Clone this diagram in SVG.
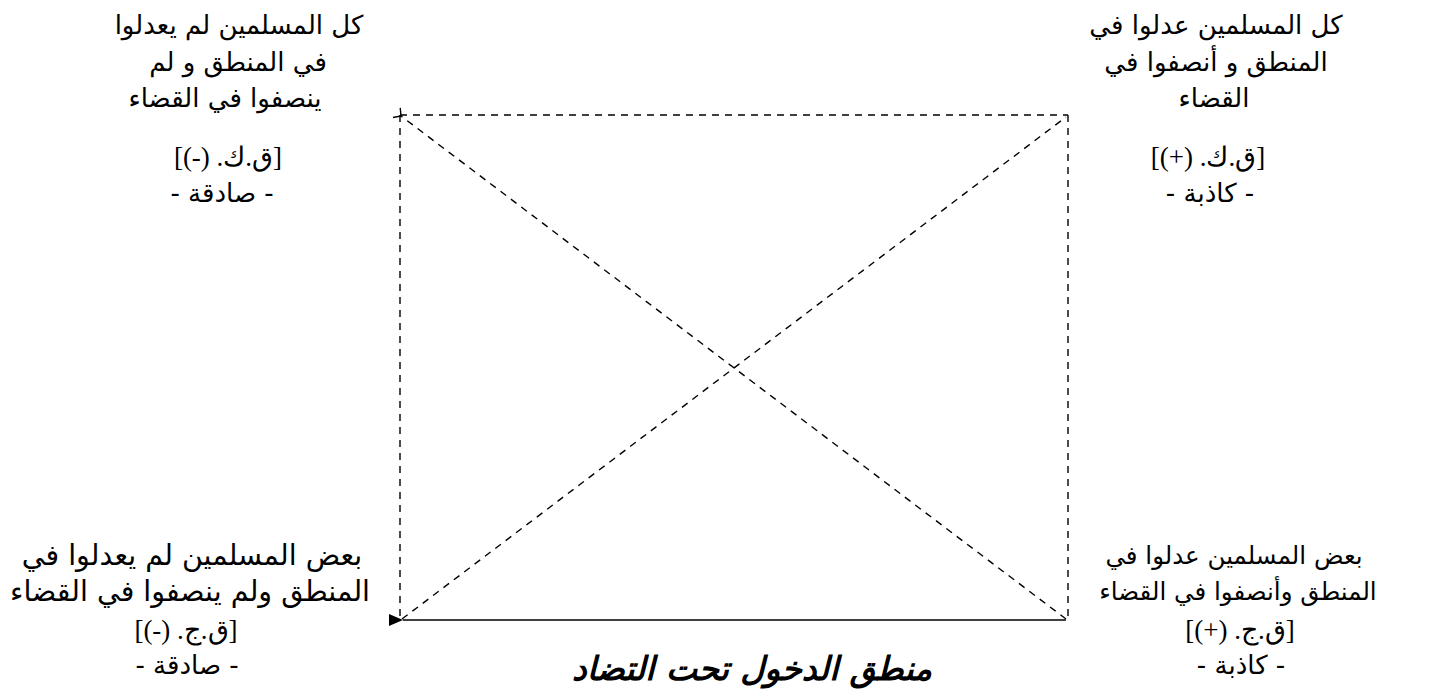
<svg xmlns="http://www.w3.org/2000/svg" width="1445" height="697" viewBox="0 0 1445 697">
<style>
.t{font-family:"DejaVu Sans","Liberation Sans",sans-serif;font-size:26px;fill:#000;text-anchor:middle;direction:rtl}
.bl{font-size:28.5px}
.br{font-size:24.5px}
.b{font-family:"Liberation Serif","DejaVu Serif",serif;font-size:27px;fill:#000;text-anchor:middle;direction:rtl}
.title{font-family:"DejaVu Sans",sans-serif;font-size:33px;font-weight:bold;font-style:italic;fill:#000;text-anchor:middle;direction:rtl}
.d{stroke:#000;stroke-width:1.4;stroke-dasharray:7 6;fill:none}
.s{stroke:#000;stroke-width:1.6;fill:none}
</style>
<defs>
<marker id="tri" markerWidth="14" markerHeight="12" refX="0" refY="6" orient="auto" markerUnits="userSpaceOnUse">
<path d="M0,6 L14,0 L14,12 Z" fill="#000"/>
</marker>
<marker id="open" markerWidth="10" markerHeight="14" refX="0.5" refY="7" orient="auto" markerUnits="userSpaceOnUse">
<path d="M6,1 L0.5,7 L6,13" fill="none" stroke="#000" stroke-width="1.4"/>
</marker>
</defs>
<g id="connectors">
<line class="d" x1="400" y1="115" x2="1068" y2="115"/>
<line class="d" x1="400" y1="115" x2="400" y2="620"/>
<line class="d" x1="1068" y1="115" x2="1068" y2="620"/>
<line class="d" x1="1066" y1="619" x2="401" y2="116" marker-end="url(#open)"/>
<line class="d" x1="402" y1="619" x2="1066" y2="117"/>
<line class="s" x1="1066" y1="620" x2="403" y2="620" marker-end="url(#tri)"/>
</g>
<g id="node-top-left">
<text class="t" x="239" y="34">كل المسلمين لم يعدلوا</text>
<text class="t" x="238" y="71">في المنطق و لم</text>
<text class="t" x="225" y="107">ينصفوا  في القضاء</text>
<text class="b" x="228" y="166">[ق.ك. (-)]</text>
<text class="t" x="222" y="202">- صادقة -</text>
</g>
<g id="node-top-right">
<text class="t" x="1216" y="34">كل المسلمين عدلوا في</text>
<text class="t" x="1216" y="71">المنطق و أنصفوا في</text>
<text class="t" x="1214" y="107">القضاء</text>
<text class="b" x="1208" y="166">[ق.ك. (+)]</text>
<text class="t" x="1210" y="202">- كاذبة -</text>
</g>
<g id="node-bottom-left">
<text class="t bl" x="192" y="565">بعض المسلمين لم يعدلوا في</text>
<text class="t bl" x="190" y="601">المنطق ولم ينصفوا في القضاء</text>
<text class="b" x="186" y="639">[ق.ج. (-)]</text>
<text class="t" x="187" y="674">- صادقة -</text>
</g>
<g id="node-bottom-right">
<text class="t br" x="1234" y="564">بعض المسلمين عدلوا في</text>
<text class="t br" x="1238" y="600">المنطق وأنصفوا في القضاء</text>
<text class="b" x="1240" y="639">[ق.ج. (+)]</text>
<text class="t" x="1241" y="674">- كاذبة -</text>
</g>
<g id="caption">
<text class="title" x="752" y="680">منطق الدخول تحت التضاد</text>
</g>
</svg>
